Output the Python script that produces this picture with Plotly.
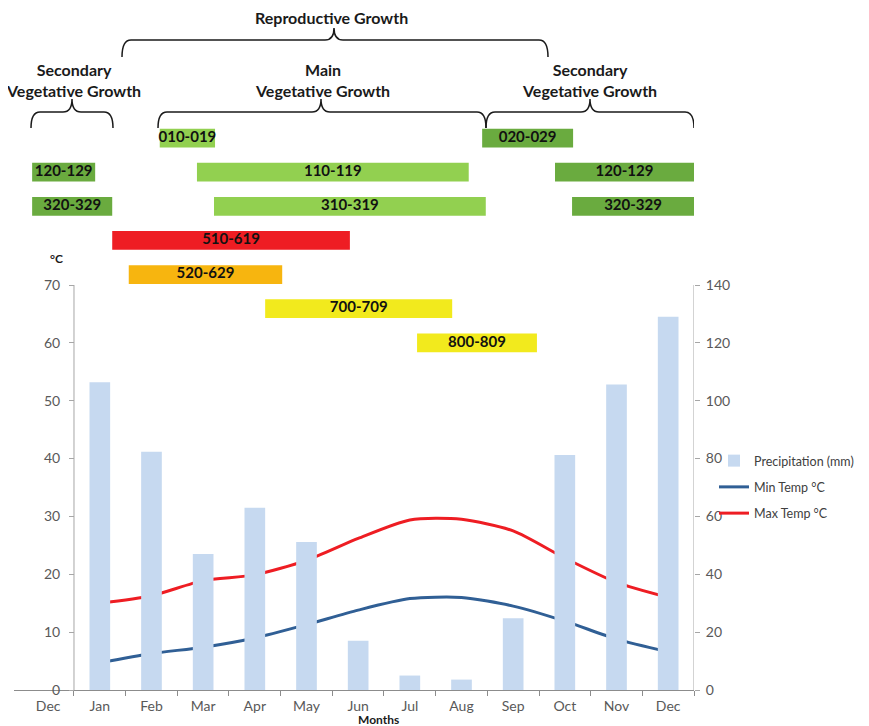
import plotly.graph_objects as go

# ---------------- data ----------------
tick_labels = ["Dec", "Jan", "Feb", "Mar", "Apr", "May", "Jun", "Jul", "Aug", "Sep", "Oct", "Nov", "Dec"]
month_pos = [1, 2, 3, 4, 5, 6, 7, 8, 9, 10, 11, 12]
precip_mm = [106.4, 82.4, 47.0, 63.0, 51.2, 17.0, 5.0, 3.6, 24.8, 81.2, 105.6, 129.0]
min_temp = [4.7, 6.3, 7.4, 9.0, 11.3, 13.8, 15.8, 16.0, 14.5, 11.9, 8.8, 6.6]
max_temp = [15.0, 16.3, 18.9, 19.9, 22.4, 26.2, 29.4, 29.5, 27.5, 22.8, 18.6, 16.0]

stage_labels = ["010-019", "020-029", "120-129", "110-119", "120-129", "320-329",
                "310-319", "320-329", "510-619", "520-629", "700-709", "800-809"]
stage_start = [2.16, 8.40, -0.31, 2.88, 9.81, -0.31, 3.21, 10.14, 1.24, 1.56, 4.20, 7.14]
stage_end = [3.23, 10.16, 0.91, 8.14, 12.50, 1.24, 8.47, 12.50, 5.84, 4.53, 7.82, 9.46]
stage_row = [0, 0, 1, 1, 1, 2, 2, 2, 3, 4, 5, 6]
stage_kind = ["main", "sec", "sec", "main", "sec", "sec", "main", "sec", "r1", "r2", "r3", "r3"]

# ---------------- geometry (page has an 8px body margin) ----------------
OFF = 8
W, H = 869 - OFF, 726 - OFF
L, R, T, B = 6, 175, 0, 36
X_LO, X_HI = -0.661, 12.5
plot_w = W - L - R
plot_h = H - T - B
ux = plot_w / (X_HI - X_LO)
uy = 405.0 / 70.0
Y_HI = plot_h / uy


def px2x(px):  # screen pixel -> x data
    return X_LO + (px - OFF - L) / ux


def py2y(py):  # screen pixel -> y data
    return (H - B - (py - OFF)) / uy


def py2paper(py):
    return (H - B - (py - OFF)) / plot_h


kind_colors = {"main": "#92D050", "sec": "#6AAB3F", "r1": "#EE1D23", "r2": "#F7B50F", "r3": "#F2EA1D"}
row_y = [95.4 - 5.9 * r for r in stage_row]

fig = go.Figure()

fig.add_trace(go.Bar(
    x=month_pos, y=precip_mm, yaxis="y2", width=0.4,
    marker=dict(color="#C6D9F0", line=dict(width=0)),
    name="Precipitation (mm)", legendgroup="a",
))
fig.add_trace(go.Scatter(
    x=month_pos, y=min_temp, mode="lines", name="Min Temp °C", legendgroup="b",
    line=dict(color="#305F95", width=3, shape="spline", smoothing=0.7),
))
fig.add_trace(go.Scatter(
    x=month_pos, y=max_temp, mode="lines", name="Max Temp °C", legendgroup="c",
    line=dict(color="#EE1D23", width=3, shape="spline", smoothing=0.7),
))

# growth stage bars
fig.add_trace(go.Bar(
    orientation="h",
    y=row_y,
    base=stage_start,
    x=[e - s for s, e in zip(stage_start, stage_end)],
    width=3.25,
    marker=dict(color=[kind_colors[k] for k in stage_kind], line=dict(width=0)),
    showlegend=False, hoverinfo="skip",
))
fig.add_trace(go.Scatter(
    x=[(s + e) / 2 for s, e in zip(stage_start, stage_end)],
    y=row_y, mode="text", text=stage_labels,
    textfont=dict(family="Lato", size=15, color="#111111", weight="bold"),
    showlegend=False, hoverinfo="skip", cliponaxis=False,
))


# ---------------- braces ----------------
def brace(x1, x2, xm, ytip, yline, yend, r=9):
    X1, X2, XM = px2x(x1), px2x(x2), px2x(xm)
    Yt, Yl, Ye = py2y(ytip), py2y(yline), py2y(yend)
    rx = r / ux
    return (f"M {X1},{Ye} Q {X1},{Yl} {X1 + rx},{Yl} L {XM - rx},{Yl} "
            f"Q {XM},{Yl} {XM},{Yt} Q {XM},{Yl} {XM + rx},{Yl} "
            f"L {X2 - rx},{Yl} Q {X2},{Yl} {X2},{Ye}")


shapes = []
for args in [(122, 548, 334, 28, 40, 57),
             (31, 113, 72, 99, 112, 128),
             (158, 486, 321, 99, 112, 128),
             (486, 694, 590, 99, 112, 128)]:
    shapes.append(dict(type="path", path=brace(*args), xref="x", yref="y",
                       line=dict(color="#1a1a1a", width=1.5)))

shapes.append(dict(type="line", xref="x", yref="y", x0=0.5, x1=0.5, y0=0, y1=70,
                   line=dict(color="#A6A6A6", width=1)))
shapes.append(dict(type="line", xref="x", yref="y", x0=12.5, x1=12.5, y0=0, y1=70,
                   line=dict(color="#A6A6A6", width=1)))

head_font = dict(family="Lato", size=16, color="#1a1a1a", weight="bold")
annotations = [
    dict(x=px2x(331), y=py2y(17), text="Reproductive Growth"),
    dict(x=px2x(73), y=py2y(80), text="Secondary<br>Vegetative Growth"),
    dict(x=px2x(322), y=py2y(80), text="Main<br>Vegetative Growth"),
    dict(x=px2x(589), y=py2y(80), text="Secondary<br>Vegetative Growth"),
]
for a in annotations:
    a.update(xref="x", yref="y", showarrow=False, font=head_font, align="center")

axis_font = dict(family="Lato", size=14, color="#595959")
annotations += [
    dict(x=px2x(56), y=py2y(258), xref="x", yref="y", text="°C", showarrow=False,
         font=dict(family="Lato", size=12, color="#1a1a1a", weight="bold")),
    dict(x=px2x(715), y=py2y(256), xref="x", yref="y", text="mm", showarrow=False,
         font=dict(family="Lato", size=12, color="#1a1a1a", weight="bold")),
    dict(x=px2x(378), y=py2paper(719), xref="x", yref="paper", yanchor="middle",
         text="Months", showarrow=False,
         font=dict(family="Lato", size=12, color="#1a1a1a", weight="bold")),
]

fig.update_layout(
    width=W, height=H,
    margin=dict(l=L, r=R, t=T, b=B, autoexpand=False),
    paper_bgcolor="white", plot_bgcolor="white",
    barmode="overlay",
    showlegend=True,
    legend=dict(x=(714 - OFF - L) / plot_w, y=1 - (446 - OFF - T) / plot_h,
                xanchor="left", yanchor="top",
                font=dict(family="Lato", size=12.5, color="#404040"),
                tracegroupgap=7, bgcolor="rgba(0,0,0,0)"),
    xaxis=dict(range=[X_LO, X_HI], tickmode="array", tickvals=list(range(13)), ticktext=tick_labels,
               ticks="", showgrid=False, zeroline=False, showline=True, linecolor="#8C8C8C",
               tickfont=axis_font, ticklabelstandoff=3,
               minor=dict(tickvals=[i + 0.5 for i in range(13)], ticks="outside", ticklen=5,
                          tickcolor="#8C8C8C", showgrid=False)),
    yaxis=dict(range=[0, Y_HI], tickmode="array", tickvals=list(range(0, 71, 10)),
               anchor="free", position=(74 - OFF - L) / plot_w, side="left",
               showgrid=False, zeroline=False, showline=False,
               ticks="outside", ticklen=5, tickcolor="#A6A6A6", tickfont=axis_font,
               ticklabelstandoff=6),
    yaxis2=dict(range=[0, 2 * Y_HI], tickmode="array", tickvals=list(range(0, 141, 20)),
                overlaying="y", side="right", anchor="x",
                showgrid=False, zeroline=False, showline=False,
                ticks="outside", ticklen=5, tickcolor="#A6A6A6", tickfont=axis_font,
                ticklabelstandoff=3),
    shapes=shapes,
    annotations=annotations,
)

fig.write_html("out.html")
